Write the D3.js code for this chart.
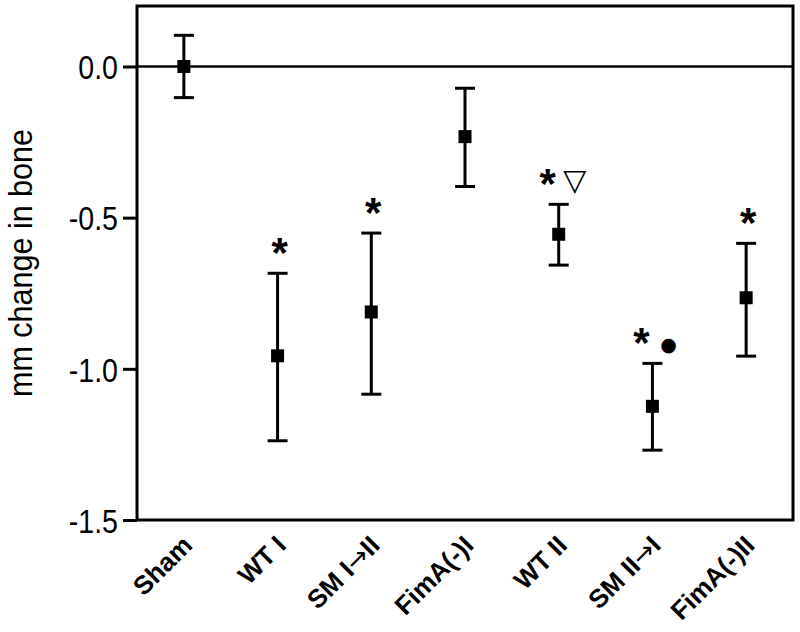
<!doctype html>
<html>
<head>
  <meta charset="UTF-8">
  <title>mm change in bone</title>
  <script src="https://cdn.jsdelivr.net/npm/d3@7/dist/d3.min.js"></script>
  <style>
    body { margin: 0; background: #fff; }
    svg text { fill: #000; }
    .tick-label { font-family: "Liberation Sans", Arial, sans-serif; font-size: 34px; }
    .y-title { font-family: "Liberation Sans", Arial, sans-serif; font-size: 33px; }
    .x-label { font-family: "Liberation Sans", Arial, sans-serif; font-weight: bold; font-size: 26px; }
    .star { font-family: "Liberation Sans", Arial, sans-serif; font-weight: bold; font-size: 42px; }
    .mark { font-family: "DejaVu Sans", sans-serif; }
  </style>
</head>
<body>
<div id="chart"></div>
<script>
  // groups and values (mm change in bone)
  var groups = ["Sham", "WT I", "SM I\u2192II", "FimA(-)I", "WT II", "SM II\u2192I", "FimA(-)II"];
  var means  = [0.0, -0.957, -0.812, -0.232, -0.555, -1.124, -0.765];
  var upper  = [0.103, -0.684, -0.551, -0.072, -0.456, -0.982, -0.585];
  var lower  = [-0.103, -1.238, -1.084, -0.397, -0.657, -1.269, -0.958];
  var stars  = ["", "*", "*", "", "*", "*", "*"];
  var marks  = ["", "", "", "", "\u25BD", "\u25CF", ""];
  var yTicks = [0.0, -0.5, -1.0, -1.5];

  var w = 800, h = 632,
      margin = {top: 6, right: 7, bottom: 112, left: 137};

  var svg = d3.select("#chart").append("svg")
    .attr("width", w)
    .attr("height", h);

  var x = d3.scalePoint()
    .domain(groups)
    .range([margin.left, w - margin.right])
    .padding(0.5);

  var y = d3.scaleLinear()
    .domain([-1.5, 0.2])
    .range([h - margin.bottom, margin.top]);

  var g = svg.append("g");

  // frame
  g.append("rect")
    .attr("x", margin.left)
    .attr("y", margin.top)
    .attr("width", w - margin.right - margin.left)
    .attr("height", h - margin.bottom - margin.top)
    .attr("fill", "none")
    .attr("stroke", "#000")
    .attr("stroke-width", 3);

  // zero line
  g.append("line")
    .attr("x1", margin.left).attr("x2", w - margin.right)
    .attr("y1", y(0)).attr("y2", y(0))
    .attr("stroke", "#000")
    .attr("stroke-width", 2.5);

  // y axis
  var yAxis = d3.axisLeft(y)
    .tickValues(yTicks)
    .tickSize(14)
    .tickPadding(5)
    .tickFormat(function(d) { return d3.format(".1f")(d).replace("\u2212", "-"); });

  var ya = svg.append("g")
    .attr("transform", "translate(" + margin.left + ",0)")
    .call(yAxis);
  ya.select(".domain").remove();
  ya.selectAll(".tick line").attr("stroke", "#000").attr("stroke-width", 3);
  ya.selectAll(".tick text")
    .attr("class", "tick-label")
    .attr("font-size", null).attr("font-family", null)
    .attr("dy", "0.36em")
    .each(function() {
      // the original labels use a condensed face
      var len = this.getComputedTextLength();
      d3.select(this).attr("textLength", len * 0.84).attr("lengthAdjust", "spacingAndGlyphs");
    });

  svg.append("text")
    .attr("class", "y-title")
    .attr("text-anchor", "middle")
    .attr("textLength", 268)
    .attr("lengthAdjust", "spacingAndGlyphs")
    .attr("transform", "translate(32," + ((margin.top + h - margin.bottom) / 2) + ") rotate(-90)")
    .text("mm change in bone");

  // x labels, arrow set in a face with a long arrow
  var xl = svg.selectAll(".x-label")
    .data(groups)
    .enter().append("text")
    .attr("class", "x-label")
    .attr("text-anchor", "end")
    .attr("transform", function(d) { return "translate(" + (x(d) + 10) + "," + (h - margin.bottom + 27) + ") rotate(-45)"; });

  xl.each(function(d) {
    var parts = d.split("\u2192"), t = d3.select(this);
    t.append("tspan").text(parts[0]);
    if (parts.length > 1) {
      t.append("tspan").style("font-family", "DejaVu Sans").style("font-weight", "normal").text("\u2192");
      t.append("tspan").text(parts[1]);
    }
  });

  // error bars
  var bars = g.selectAll(".err")
    .data(groups)
    .enter().append("g")
    .attr("class", "err");

  bars.append("line")
    .attr("x1", function(d) { return x(d); })
    .attr("x2", function(d) { return x(d); })
    .attr("y1", function(d, i) { return y(upper[i]); })
    .attr("y2", function(d, i) { return y(lower[i]); })
    .attr("stroke", "#000").attr("stroke-width", 3);

  bars.selectAll(".cap")
    .data(function(d, i) { return [{k: d, v: upper[i]}, {k: d, v: lower[i]}]; })
    .enter().append("line")
    .attr("class", "cap")
    .attr("x1", function(d) { return x(d.k) - 10; })
    .attr("x2", function(d) { return x(d.k) + 10; })
    .attr("y1", function(d) { return y(d.v); })
    .attr("y2", function(d) { return y(d.v); })
    .attr("stroke", "#000").attr("stroke-width", 3);

  bars.append("rect")
    .attr("x", function(d) { return x(d) - 6.5; })
    .attr("y", function(d, i) { return y(means[i]) - 6.5; })
    .attr("width", 13)
    .attr("height", 13)
    .attr("fill", "#000");

  // significance notes
  g.selectAll(".star")
    .data(groups)
    .enter().append("text")
    .attr("class", "star")
    .attr("text-anchor", "middle")
    .attr("x", function(d, i) { return x(d) + (marks[i] ? -11 : 2); })
    .attr("y", function(d, i) { return y(upper[i]) - 6; })
    .text(function(d, i) { return stars[i]; });

  g.selectAll(".mark")
    .data(groups)
    .enter().append("text")
    .attr("class", "mark")
    .attr("text-anchor", "middle")
    .attr("x", function(d) { return x(d) + 16; })
    .attr("y", function(d, i) { return y(upper[i]) - (marks[i] === "\u25CF" ? 12 : 14); })
    .style("font-size", function(d, i) { return marks[i] === "\u25CF" ? "19px" : "30px"; })
    .text(function(d, i) { return marks[i]; });
</script>
</body>
</html>
